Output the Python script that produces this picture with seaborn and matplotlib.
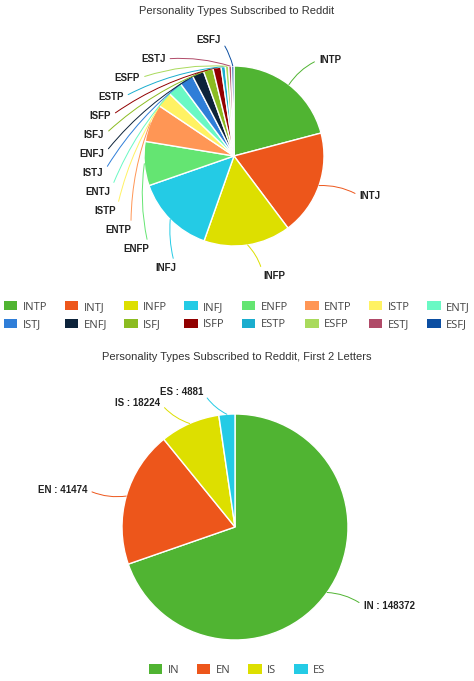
import numpy as np
import matplotlib
matplotlib.use('Agg')
import matplotlib.pyplot as plt
import seaborn as sns
from matplotlib.patches import Patch

# Subscribers per personality type subreddit
types = ['INTP', 'INTJ', 'INFP', 'INFJ', 'ENFP', 'ENTP', 'ISTP', 'ENTJ',
         'ISTJ', 'ENFJ', 'ISFJ', 'ISFP', 'ESTP', 'ESFP', 'ESTJ', 'ESFJ']
subscribers = [44500, 40200, 33300, 30400, 16900, 14500, 6000, 5600,
               5400, 4500, 3700, 3100, 1600, 1300, 1100, 900]
type_colors = ['#50B432', '#ED561B', '#DDDF00', '#24CBE5', '#64E572', '#FF9655', '#FFF263', '#6AF9C4',
               '#2F7ED8', '#0D233A', '#8BBC21', '#910000', '#1AADCE', '#A9DA5C', '#B04A68', '#0B4EA2']

# First two letters
groups = ['IN', 'EN', 'IS', 'ES']
group_counts = [148372, 41474, 18224, 4881]
group_colors = ['#50B432', '#ED561B', '#DDDF00', '#24CBE5']

sns.set_theme(style='white')
plt.rcParams['font.family'] = ['Liberation Sans', 'DejaVu Sans']

W, H = 474, 681
fig = plt.figure(figsize=(W / 100, H / 100), dpi=100)


def pie_axes(cx, cy, r, hw, hh):
    ax = fig.add_axes([(cx - hw) / W, 1 - (cy + hh) / H, 2 * hw / W, 2 * hh / H])
    return ax


def mid(w):
    a = np.deg2rad((w.theta1 + w.theta2) / 2)
    return np.cos(a), np.sin(a)


# ---- top pie ----
ax1 = pie_axes(234, 156, 90, 230, 140)
wedges, _ = ax1.pie(subscribers, colors=type_colors, startangle=90, counterclock=False,
                    wedgeprops=dict(edgecolor='white', linewidth=1))
ax1.set_xlim(-230 / 90, 230 / 90)
ax1.set_ylim(-140 / 90, 140 / 90)
ax1.set_aspect('equal')
ax1.axis('off')

lab_kw = dict(fontsize=7, fontweight='bold', color='#222222', va='center')
for i in range(3):
    x, y = mid(wedges[i])
    ax1.annotate(types[i], xy=(x, y), xytext=(1.35 * x + 0.12, 1.35 * y), ha='left', **lab_kw,
                 arrowprops=dict(arrowstyle='-', color=type_colors[i], lw=0.7, relpos=(0, 0.5),
                                 shrinkA=1, shrinkB=0, connectionstyle='arc3,rad=0.15'))

# small slices: labels stacked along the left side
ys = np.linspace(-1.244, 1.289, 13)
for k, i in enumerate(range(3, 16)):
    ty = ys[k]
    b = 1.42 if ty < 0 else 1.31
    tx = -1.58 * np.sqrt(max(0, 1 - (ty / b) ** 2))
    x, y = mid(wedges[i])
    ax1.annotate(types[i], xy=(x, y), xytext=(tx, ty), ha='center', **lab_kw,
                 arrowprops=dict(arrowstyle='-', color=type_colors[i], lw=0.7, relpos=(1, 0.5),
                                 shrinkA=1, shrinkB=0, connectionstyle='arc3,rad=-0.1'))

fig.text(0.5, 1 - 11 / H, 'Personality Types Subscribed to Reddit', ha='center', va='center',
         fontsize=8, color='#333333')

order = [j for c in range(8) for j in (c, c + 8)]
handles = [Patch(facecolor=type_colors[i], edgecolor='none') for i in order]
fig.legend(handles, [types[i] for i in order], ncol=8, loc='upper left',
           bbox_to_anchor=(4 / W, 1 - 308 / H, 466 / W, 0.01), mode='expand', frameon=False,
           prop=dict(family='Open Sans', size=8), labelcolor='#444444',
           handlelength=1.2, handleheight=0.9, handletextpad=0.5, labelspacing=0.57,
           borderaxespad=0, borderpad=0)

# ---- bottom pie ----
ax2 = pie_axes(235, 527, 113, 230, 130)
wedges2, _ = ax2.pie(group_counts, colors=group_colors, startangle=90, counterclock=False,
                     wedgeprops=dict(edgecolor='white', linewidth=1))
ax2.set_xlim(-230 / 113, 230 / 113)
ax2.set_ylim(-130 / 113, 130 / 113)
ax2.set_aspect('equal')
ax2.axis('off')

for w, g, v, c in zip(wedges2, groups, group_counts, group_colors):
    x, y = mid(w)
    right = x > 0
    shift = 0.2 if right else -0.2
    ax2.annotate(f'{g} : {v}', xy=(x, y), xytext=(1.15 * x + shift, 1.2 * y),
                 ha='left' if right else 'right', **lab_kw,
                 arrowprops=dict(arrowstyle='-', color=c, lw=0.7, relpos=(0 if right else 1, 0.5),
                                 shrinkA=1, shrinkB=0, connectionstyle='arc3,rad=0.15'))

fig.text(0.5, 1 - 357 / H, 'Personality Types Subscribed to Reddit, First 2 Letters', ha='center',
         va='center', fontsize=8, color='#333333')

handles2 = [Patch(facecolor=c, edgecolor='none') for c in group_colors]
fig.legend(handles2, groups, ncol=4, loc='center', bbox_to_anchor=(0.5, 1 - 670 / H),
           frameon=False, prop=dict(family='Open Sans', size=8), labelcolor='#444444',
           handlelength=1.2, handleheight=0.9, handletextpad=0.5, columnspacing=1.6,
           borderaxespad=0, borderpad=0)

fig.savefig('out.png', dpi=100, facecolor='white')
